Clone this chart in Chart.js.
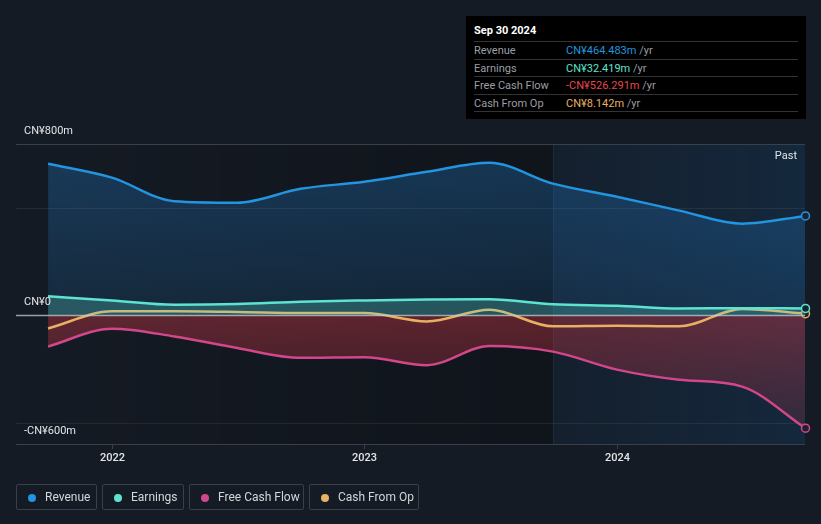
<!DOCTYPE html>
<html>
<head>
<meta charset="utf-8">
<script src="https://cdn.jsdelivr.net/npm/chart.js@4.4.1/dist/chart.umd.min.js"></script>
<style>
  body { margin: 0; background: #151b24; font-family: Roboto, "Noto Sans", sans-serif; }
  #wrap { position: relative; width: 821px; height: 524px; overflow: hidden; }
  canvas { position: absolute; left: 0; top: 0; }
  .tip { position: absolute; left: 466px; top: 16px; width: 340px; height: 103px; background: #000; }
  .tip .title { position: absolute; left: 8px; top: 8px; color: #fff; font-size: 11px; font-weight: bold; }
  .tip .row { position: absolute; left: 8px; width: 324px; height: 17px; line-height: 17px;
              border-top: 1px solid #333; font-size: 11px; color: #9a9ea4; }
  .tip .row span.v { position: absolute; left: 92px; }
  .tip .row .u { color: #9a9ea4; }
  .legend { position: absolute; top: 484px; height: 26px; border: 1px solid #3a404a; border-radius: 2px;
            box-sizing: border-box; color: #d4d6d9; font-size: 12px; line-height: 25px; }
  .legend i { position: absolute; left: 11px; top: 9px; width: 8px; height: 8px; border-radius: 50%; }
  .legend span { position: absolute; left: 28px; }
</style>
</head>
<body>
<div id="wrap">
  <canvas id="chart" width="821" height="524"></canvas>
  <div class="tip" id="tip"></div>
  <div id="legend"></div>
</div>
<script>
// Quarter ends shown on the chart (decimal years)
const quarters = ['Sep 2021', 'Dec 2021', 'Mar 2022', 'Jun 2022', 'Sep 2022', 'Dec 2022', 'Mar 2023',
  'Jun 2023', 'Sep 2023', 'Dec 2023', 'Mar 2024', 'Jun 2024', 'Sep 2024'];
const quarterX = [2021.747, 2022.0, 2022.247, 2022.496, 2022.747, 2023.0, 2023.247,
  2023.496, 2023.747, 2024.0, 2024.247, 2024.496, 2024.747];

// Values in CN¥ millions
const revenue = [708, 643, 533, 526, 591, 624, 670, 712, 615, 554, 489, 428, 464.483];
const earnings = [89, 70, 50, 53, 64, 70, 74, 75, 52, 45, 32, 34, 32.419];
const freeCashFlow = [-145, -62, -98, -152, -198, -195, -232, -143, -169, -253, -300, -332, -526.291];
const cashFromOp = [-61, 19, 19, 16, 11, 11, -28, 27, -51, -48, -51, 30, 8.142];

// Axis ticks
const yearTicks = [2022, 2023, 2024];
const yLabelValues = [800, 0, -600];
const yLabels = ['CN¥800m', 'CN¥0', '-CN¥600m'];
const gridValues = [800, 500, 0, -500, -600];
const pastStart = 2023.747;

const seriesNames = ['Revenue', 'Earnings', 'Free Cash Flow', 'Cash From Op'];
const seriesColors = ['#2394df', '#5de3cf', '#d2478a', '#e8b062'];
const tipValues = ['CN¥464.483m', 'CN¥32.419m', '-CN¥526.291m', 'CN¥8.142m'];
const tipColors = ['#2394df', '#5de3cf', '#e5484d', '#e8b062'];

const toPoints = (values) => values.map((v, i) => ({ x: quarterX[i], y: v }));
const lastOnly = (r) => quarterX.map((_, i) => (i === quarterX.length - 1 ? r : 0));

// Fill gradients built from the chart area
const areaGradient = function makeGradient(ctx, chartArea, stops) {
  const g = ctx.createLinearGradient(0, chartArea.top, 0, chartArea.bottom);
  stops.forEach((s) => g.addColorStop(s[0], s[1]));
  return g;
};

const makeDataset = function makeLineDataset(idx, values, fillFn) {
  return {
    label: seriesNames[idx],
    data: toPoints(values),
    borderColor: seriesColors[idx],
    borderWidth: 2.5,
    cubicInterpolationMode: 'monotone',
    fill: fillFn ? 'origin' : false,
    backgroundColor: fillFn || 'transparent',
    pointRadius: lastOnly(4),
    pointHoverRadius: 0,
    pointBackgroundColor: '#1b2330',
    pointBorderColor: seriesColors[idx],
    pointBorderWidth: 1.5,
    clip: false,
  };
};

// Background regions, grid lines and axis text
const decorations = {
  id: 'decorations',
  beforeDatasetsDraw(chart) {
    const { ctx, chartArea, scales } = chart;
    const x = scales.x;
    const y = scales.y;
    const split = x.getPixelForValue(pastStart);
    ctx.save();
    // darker band before the last twelve months
    let g = ctx.createLinearGradient(chartArea.left, 0, split, 0);
    g.addColorStop(0, 'rgba(0,0,0,0)');
    g.addColorStop(1, 'rgba(0,0,0,0.22)');
    ctx.fillStyle = g;
    ctx.fillRect(chartArea.left, chartArea.top, split - chartArea.left, chartArea.bottom - chartArea.top);
    // lighter "past" band
    g = ctx.createLinearGradient(split, 0, chartArea.right, 0);
    g.addColorStop(0, 'rgba(20,70,120,0.12)');
    g.addColorStop(1, 'rgba(20,80,135,0.25)');
    ctx.fillStyle = g;
    ctx.fillRect(split, chartArea.top, chartArea.right - split, chartArea.bottom - chartArea.top);
    ctx.fillStyle = 'rgba(255,255,255,0.05)';
    ctx.fillRect(split, chartArea.top, 1, chartArea.bottom - chartArea.top);

    gridValues.forEach((v) => {
      const py = Math.round(y.getPixelForValue(v)) + 0.5;
      if (v === 0) return;
      ctx.strokeStyle = (v === 800 || v === -600) ? '#3a404a' : 'rgba(255,255,255,0.07)';
      ctx.lineWidth = 1;
      ctx.beginPath();
      ctx.moveTo(chartArea.left, py);
      ctx.lineTo(chartArea.right, py);
      ctx.stroke();
    });
    ctx.restore();
  },
  afterDatasetsDraw(chart) {
    const { ctx, chartArea, scales } = chart;
    const x = scales.x;
    const y = scales.y;
    ctx.save();
    // zero line
    const zy = y.getPixelForValue(0);
    ctx.strokeStyle = 'rgba(200,203,208,0.75)';
    ctx.lineWidth = 1.5;
    ctx.beginPath();
    ctx.moveTo(chartArea.left, zy);
    ctx.lineTo(chartArea.right, zy);
    ctx.stroke();

    ctx.font = '11px Roboto, sans-serif';
    ctx.fillStyle = '#e2e4e7';
    ctx.textBaseline = 'middle';
    ctx.textAlign = 'left';
    yLabelValues.forEach((v, i) => {
      ctx.fillText(yLabels[i], chartArea.left + 8, y.getPixelForValue(v) - 13);
    });

    ctx.textAlign = 'center';
    ctx.font = '500 11px Roboto, sans-serif';
    yearTicks.forEach((yr) => {
      const px = Math.round(x.getPixelForValue(yr)) + 0.5;
      ctx.strokeStyle = '#3a404a';
      ctx.lineWidth = 1;
      ctx.beginPath();
      ctx.moveTo(px, chartArea.bottom);
      ctx.lineTo(px, chartArea.bottom + 5);
      ctx.stroke();
      ctx.fillText(String(yr), px, chartArea.bottom + 14);
    });

    ctx.textAlign = 'right';
    ctx.font = '11px Roboto, sans-serif';
    ctx.fillText('Past', chartArea.right - 8, chartArea.top + 12);
    ctx.restore();
  },
};

const renderChart = function renderChartFromArrays() {
  const canvas = document.getElementById('chart');
  new Chart(canvas, {
    type: 'line',
    data: {
      datasets: [
        makeDataset(1, earnings, (c) => c.chart.chartArea
          ? areaGradient(c.chart.ctx, c.chart.chartArea, [[0, 'rgba(93,227,207,0.25)'], [0.57, 'rgba(93,227,207,0.25)']])
          : 'transparent'),
        makeDataset(3, cashFromOp, null),
        makeDataset(0, revenue, (c) => c.chart.chartArea
          ? areaGradient(c.chart.ctx, c.chart.chartArea, [[0, 'rgba(35,130,210,0.32)'], [0.57, 'rgba(35,130,210,0.14)']])
          : 'transparent'),
        makeDataset(2, freeCashFlow, (c) => c.chart.chartArea
          ? areaGradient(c.chart.ctx, c.chart.chartArea, [[0.57, 'rgba(200,55,70,0.42)'], [1, 'rgba(200,55,70,0.12)']])
          : 'transparent'),
      ],
    },
    options: {
      responsive: false,
      animation: false,
      events: [],
      layout: { padding: { left: 16, right: 16, top: 144, bottom: 80 } },
      scales: {
        x: { type: 'linear', display: false, min: 2021.62, max: 2024.745 },
        y: { type: 'linear', display: false, min: -600, max: 800 },
      },
      plugins: { legend: { display: false }, tooltip: { enabled: false } },
    },
    plugins: [decorations],
  });
};

// Tooltip-style summary box and legend as HTML text
const renderBoxes = function renderSummaryAndLegend() {
  const tip = document.getElementById('tip');
  let html = '<div class="title">Sep 30 2024</div>';
  const rowTops = [25, 42.5, 60, 77.5];
  seriesNames.forEach((name, i) => {
    html += '<div class="row" style="top:' + rowTops[i] + 'px">' + name +
      '<span class="v"><span style="color:' + tipColors[i] + '">' + tipValues[i] +
      '</span> <span class="u">/yr</span></span></div>';
  });
  html += '<div class="row" style="top:95px;height:0"></div>';
  tip.innerHTML = html;

  const legend = document.getElementById('legend');
  const lefts = [16, 102, 189, 309];
  const widths = [81, 82, 115, 110];
  legend.innerHTML = seriesNames.map((name, i) =>
    '<div class="legend" style="left:' + lefts[i] + 'px;width:' + widths[i] + 'px">' +
    '<i style="background:' + seriesColors[i] + '"></i><span>' + name + '</span></div>').join('');
};

renderChart();
renderBoxes();
</script>
</body>
</html>
